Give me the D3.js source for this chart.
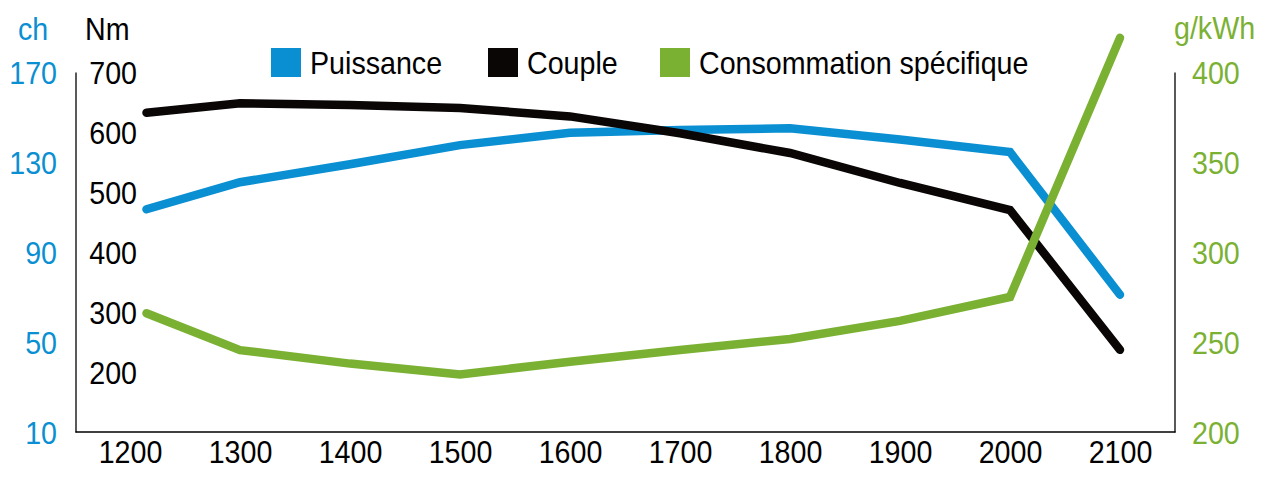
<!DOCTYPE html>
<html>
<head>
<meta charset="utf-8">
<script src="https://cdn.jsdelivr.net/npm/d3@7"></script>
<style>
  html, body { margin: 0; padding: 0; background: #fff; }
  svg { display: block; font-family: "Liberation Sans", Arial, sans-serif; }
</style>
</head>
<body>
<svg id="chart" width="1268" height="482"></svg>
<script>
// ---- data ----
const rpmTicks = [1200, 1300, 1400, 1500, 1600, 1700, 1800, 1900, 2000, 2100];
const rpm = [1215, 1300, 1400, 1500, 1600, 1700, 1800, 1900, 2000, 2100];
const puissance = [109, 121, 129, 137.5, 143, 144.2, 145, 140, 134.4, 71];
const couple = [632, 648, 645, 640, 626, 598, 565, 515, 470, 237];
const conso = [266, 245.5, 238, 232, 239, 245.5, 251.7, 261.7, 275, 419];
const chTicks = [10, 50, 90, 130, 170];
const nmTicks = [200, 300, 400, 500, 600, 700];
const gTicks = [200, 250, 300, 350, 400];
const seriesNames = ["Puissance", "Couple", "Consommation spécifique"];

// ---- styles ----
const BLUE = "#0a8fd2", BLACK = "#0a0606", GREEN = "#7bb133";
const FS = 32, SX = 0.895;

const svg = d3.select("#chart");
const x = d3.scaleLinear().domain([1150, 2150]).range([75, 1175]);
const yCh = d3.scaleLinear().domain([10, 170]).range([432, 72]);
const yNm = d3.scaleLinear().domain([100, 700]).range([432, 72]);
const yG = d3.scaleLinear().domain([200, 400]).range([432, 72]);

function styleText(sel, color, anchor, xPos, dy) {
  sel.selectAll("text")
    .attr("font-size", FS)
    .attr("font-family", "Liberation Sans, Arial, sans-serif")
    .attr("fill", color)
    .attr("text-anchor", anchor)
    .attr("x", xPos / SX)
    .attr("dy", dy)
    .attr("transform", `scale(${SX},1)`);
}

// bottom axis
const gx = svg.append("g").attr("transform", "translate(0,431.5)")
  .call(d3.axisBottom(x).tickValues(rpmTicks).tickSize(0).tickSizeOuter(0).tickFormat(d3.format("d")));
gx.select(".domain").attr("stroke", "#000").attr("stroke-width", 1.3);
gx.selectAll("text").attr("y", 8.5);
styleText(gx, "#000", "middle", 0, "0.71em");
gx.selectAll(".tick text").attr("x", 0);

// left ch axis
const gch = svg.append("g").attr("transform", "translate(75.5,0)")
  .call(d3.axisLeft(yCh).tickValues(chTicks).tickSize(0).tickSizeOuter(0));
gch.select(".domain").attr("stroke", "#000").attr("stroke-width", 1.3);
styleText(gch, BLUE, "end", -18.5, "0.36em");

// Nm axis (labels only)
const gnm = svg.append("g").attr("transform", "translate(137,0)")
  .call(d3.axisLeft(yNm).tickValues(nmTicks).tickSize(0).tickSizeOuter(0));
gnm.select(".domain").remove();
styleText(gnm, "#000", "end", 0, "0.36em");

// right g/kWh axis
const gg = svg.append("g").attr("transform", "translate(1174.5,0)")
  .call(d3.axisRight(yG).tickValues(gTicks).tickSize(0).tickSizeOuter(0));
gg.select(".domain").attr("stroke", "#000").attr("stroke-width", 1.3);
styleText(gg, GREEN, "start", 17.5, "0.36em");

// unit labels
function label(txt, xx, yy, color) {
  svg.append("text").text(txt)
    .attr("x", xx / SX).attr("y", yy)
    .attr("transform", `scale(${SX},1)`)
    .attr("font-size", FS).attr("fill", color);
}
label("ch", 18, 40, BLUE);
label("Nm", 85, 40, "#000");
label("g/kWh", 1174, 39, GREEN);

// lines
function drawLine(vals, yScale, color) {
  const line = d3.line().x((d, i) => x(rpm[i])).y(d => yScale(d));
  svg.append("path").datum(vals)
    .attr("d", line)
    .attr("fill", "none")
    .attr("stroke", color)
    .attr("stroke-width", 8.5)
    .attr("stroke-linecap", "round")
    .attr("stroke-linejoin", "miter");
}
drawLine(puissance, yCh, BLUE);
drawLine(couple, yNm, BLACK);
drawLine(conso, yG, GREEN);

// legend
const legendX = [271, 488, 660];
const legendColors = [BLUE, BLACK, GREEN];
seriesNames.forEach((name, i) => {
  svg.append("rect").attr("x", legendX[i]).attr("y", 48).attr("width", 30).attr("height", 29)
    .attr("fill", legendColors[i]);
  svg.append("text").text(name)
    .attr("x", (legendX[i] + 39) / SX).attr("y", 74)
    .attr("transform", `scale(${SX},1)`)
    .attr("font-size", FS).attr("fill", "#000");
});
</script>
</body>
</html>
